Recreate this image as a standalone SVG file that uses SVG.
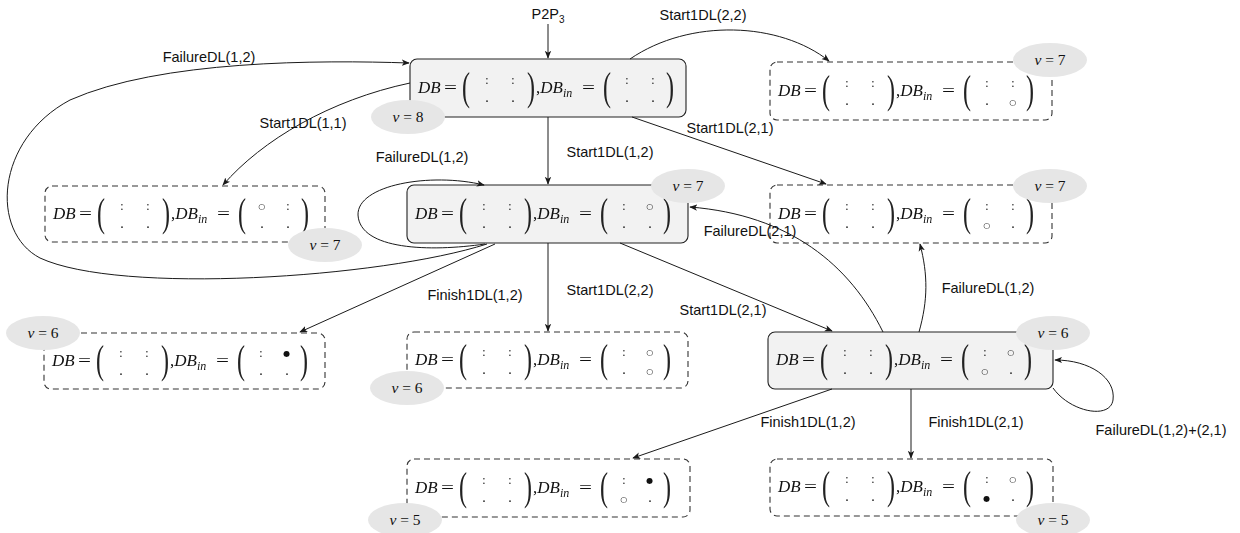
<svg xmlns="http://www.w3.org/2000/svg" width="1240" height="533" viewBox="0 0 1240 533">
<style>
.solid{fill:#f2f2f2;stroke:#222;stroke-width:1.1}
.dash{fill:none;stroke:#333;stroke-width:1.1;stroke-dasharray:6 4}
.m{font-family:"Liberation Serif",serif;font-size:17px;fill:#111}
.it{font-style:italic}
.sb{font-size:12px}
.pp{font-family:"Liberation Serif",serif;font-size:40px;fill:#222}
.c1{font-size:12px}
.c2{font-size:14px}
.o{font-family:"DejaVu Sans",sans-serif;font-size:8px}
.vb{fill:#e6e6e6}
.vt{font-family:"Liberation Serif",serif;font-size:15.5px;text-anchor:middle;fill:#111}
.lbl{font-family:"Liberation Sans",Arial,sans-serif;font-size:14.5px;fill:#111;text-anchor:middle}
.edge{fill:none;stroke:#1a1a1a;stroke-width:1;marker-end:url(#ah)}
.nd{filter:url(#gs)}
</style>
<defs>
<marker id="ah" viewBox="0 0 10 10" refX="9" refY="5" markerWidth="8" markerHeight="8" orient="auto" markerUnits="userSpaceOnUse">
<path d="M0,1 L10,5 L0,9 L2.5,5 z" fill="#1a1a1a"/>
</marker>
<filter id="gs" x="-5%" y="-20%" width="110%" height="140%"><feOffset dx="0" dy="0"/></filter>
</defs>
<rect width="1240" height="533" fill="#fff"/>

<g id="nodeA">
<g class="nd" transform="translate(410,88)">
<rect class="solid" x="0" y="-29" width="276" height="58" rx="7"/>
<text class="pp" transform="translate(52,12) scale(0.6,1)">(</text>
<text class="pp" transform="translate(117,12) scale(0.6,1)">)</text>
<text class="pp" transform="translate(193,12) scale(0.6,1)">(</text>
<text class="pp" transform="translate(256,12) scale(0.6,1)">)</text>
<text class="m"><tspan x="8" y="5" class="it">DB</tspan><tspan x="34" y="5" textLength="13" lengthAdjust="spacingAndGlyphs">=</tspan><tspan class="c1" x="75.3" y="-4">:</tspan><tspan class="c1" x="101.3" y="-4">:</tspan><tspan class="c2" x="75.3" y="14">.</tspan><tspan class="c2" x="101.3" y="14">.</tspan><tspan x="126" y="5">,</tspan><tspan class="it">DB</tspan><tspan class="it sb" y="9">in</tspan><tspan x="172" y="5" textLength="13" lengthAdjust="spacingAndGlyphs">=</tspan><tspan class="c1" x="215.3" y="-4">:</tspan><tspan class="c1" x="241.3" y="-4">:</tspan><tspan class="c2" x="215.3" y="14">.</tspan><tspan class="c2" x="241.3" y="14">.</tspan></text>
</g>
<ellipse class="vb" cx="408" cy="117" rx="37" ry="17"/>
<text class="vt" x="408" y="122"><tspan class="it">v</tspan> = 8</text>
</g>

<g id="nodeB">
<g class="nd" transform="translate(770,91)">
<rect class="dash" x="0" y="-29" width="282" height="58" rx="7"/>
<text class="pp" transform="translate(52,12) scale(0.6,1)">(</text>
<text class="pp" transform="translate(117,12) scale(0.6,1)">)</text>
<text class="pp" transform="translate(193,12) scale(0.6,1)">(</text>
<text class="pp" transform="translate(256,12) scale(0.6,1)">)</text>
<text class="m"><tspan x="8" y="5" class="it">DB</tspan><tspan x="34" y="5" textLength="13" lengthAdjust="spacingAndGlyphs">=</tspan><tspan class="c1" x="75.3" y="-4">:</tspan><tspan class="c1" x="101.3" y="-4">:</tspan><tspan class="c2" x="75.3" y="14">.</tspan><tspan class="c2" x="101.3" y="14">.</tspan><tspan x="126" y="5">,</tspan><tspan class="it">DB</tspan><tspan class="it sb" y="9">in</tspan><tspan x="172" y="5" textLength="13" lengthAdjust="spacingAndGlyphs">=</tspan><tspan class="c1" x="215.3" y="-4">:</tspan><tspan class="c1" x="241.3" y="-4">:</tspan><tspan class="c2" x="215.3" y="14">.</tspan><tspan class="o" x="239.2" y="14">○</tspan></text>
</g>
<ellipse class="vb" cx="1050" cy="60" rx="37" ry="17"/>
<text class="vt" x="1050" y="65"><tspan class="it">v</tspan> = 7</text>
</g>

<g id="nodeC">
<g class="nd" transform="translate(45,214)">
<rect class="dash" x="0" y="-28" width="280" height="56" rx="7"/>
<text class="pp" transform="translate(52,12) scale(0.6,1)">(</text>
<text class="pp" transform="translate(117,12) scale(0.6,1)">)</text>
<text class="pp" transform="translate(193,12) scale(0.6,1)">(</text>
<text class="pp" transform="translate(256,12) scale(0.6,1)">)</text>
<text class="m"><tspan x="8" y="5" class="it">DB</tspan><tspan x="34" y="5" textLength="13" lengthAdjust="spacingAndGlyphs">=</tspan><tspan class="c1" x="75.3" y="-4">:</tspan><tspan class="c1" x="101.3" y="-4">:</tspan><tspan class="c2" x="75.3" y="14">.</tspan><tspan class="c2" x="101.3" y="14">.</tspan><tspan x="126" y="5">,</tspan><tspan class="it">DB</tspan><tspan class="it sb" y="9">in</tspan><tspan x="172" y="5" textLength="13" lengthAdjust="spacingAndGlyphs">=</tspan><tspan class="o" x="213.2" y="-5">○</tspan><tspan class="c1" x="241.3" y="-4">:</tspan><tspan class="c2" x="215.3" y="14">.</tspan><tspan class="c2" x="241.3" y="14">.</tspan></text>
</g>
<ellipse class="vb" cx="325" cy="245" rx="37" ry="17"/>
<text class="vt" x="325" y="250"><tspan class="it">v</tspan> = 7</text>
</g>

<g id="nodeD">
<g class="nd" transform="translate(407,214)">
<rect class="solid" x="0" y="-29" width="281" height="58" rx="7"/>
<text class="pp" transform="translate(52,12) scale(0.6,1)">(</text>
<text class="pp" transform="translate(117,12) scale(0.6,1)">)</text>
<text class="pp" transform="translate(193,12) scale(0.6,1)">(</text>
<text class="pp" transform="translate(256,12) scale(0.6,1)">)</text>
<text class="m"><tspan x="8" y="5" class="it">DB</tspan><tspan x="34" y="5" textLength="13" lengthAdjust="spacingAndGlyphs">=</tspan><tspan class="c1" x="75.3" y="-4">:</tspan><tspan class="c1" x="101.3" y="-4">:</tspan><tspan class="c2" x="75.3" y="14">.</tspan><tspan class="c2" x="101.3" y="14">.</tspan><tspan x="126" y="5">,</tspan><tspan class="it">DB</tspan><tspan class="it sb" y="9">in</tspan><tspan x="172" y="5" textLength="13" lengthAdjust="spacingAndGlyphs">=</tspan><tspan class="c1" x="215.3" y="-4">:</tspan><tspan class="o" x="239.2" y="-5">○</tspan><tspan class="c2" x="215.3" y="14">.</tspan><tspan class="c2" x="241.3" y="14">.</tspan></text>
</g>
<ellipse class="vb" cx="688" cy="186" rx="37" ry="17"/>
<text class="vt" x="688" y="191"><tspan class="it">v</tspan> = 7</text>
</g>

<g id="nodeE">
<g class="nd" transform="translate(770,214)">
<rect class="dash" x="0" y="-29" width="282" height="58" rx="7"/>
<text class="pp" transform="translate(52,12) scale(0.6,1)">(</text>
<text class="pp" transform="translate(117,12) scale(0.6,1)">)</text>
<text class="pp" transform="translate(193,12) scale(0.6,1)">(</text>
<text class="pp" transform="translate(256,12) scale(0.6,1)">)</text>
<text class="m"><tspan x="8" y="5" class="it">DB</tspan><tspan x="34" y="5" textLength="13" lengthAdjust="spacingAndGlyphs">=</tspan><tspan class="c1" x="75.3" y="-4">:</tspan><tspan class="c1" x="101.3" y="-4">:</tspan><tspan class="c2" x="75.3" y="14">.</tspan><tspan class="c2" x="101.3" y="14">.</tspan><tspan x="126" y="5">,</tspan><tspan class="it">DB</tspan><tspan class="it sb" y="9">in</tspan><tspan x="172" y="5" textLength="13" lengthAdjust="spacingAndGlyphs">=</tspan><tspan class="c1" x="215.3" y="-4">:</tspan><tspan class="c1" x="241.3" y="-4">:</tspan><tspan class="o" x="213.2" y="14">○</tspan><tspan class="c2" x="241.3" y="14">.</tspan></text>
</g>
<ellipse class="vb" cx="1050" cy="186" rx="37" ry="17"/>
<text class="vt" x="1050" y="191"><tspan class="it">v</tspan> = 7</text>
</g>

<g id="nodeF">
<g class="nd" transform="translate(44,361)">
<rect class="dash" x="0" y="-28" width="281" height="56" rx="7"/>
<text class="pp" transform="translate(52,12) scale(0.6,1)">(</text>
<text class="pp" transform="translate(117,12) scale(0.6,1)">)</text>
<text class="pp" transform="translate(193,12) scale(0.6,1)">(</text>
<text class="pp" transform="translate(256,12) scale(0.6,1)">)</text>
<text class="m"><tspan x="8" y="5" class="it">DB</tspan><tspan x="34" y="5" textLength="13" lengthAdjust="spacingAndGlyphs">=</tspan><tspan class="c1" x="75.3" y="-4">:</tspan><tspan class="c1" x="101.3" y="-4">:</tspan><tspan class="c2" x="75.3" y="14">.</tspan><tspan class="c2" x="101.3" y="14">.</tspan><tspan x="126" y="5">,</tspan><tspan class="it">DB</tspan><tspan class="it sb" y="9">in</tspan><tspan x="172" y="5" textLength="13" lengthAdjust="spacingAndGlyphs">=</tspan><tspan class="c1" x="215.3" y="-4">:</tspan><tspan class="o" x="239.2" y="-5">●</tspan><tspan class="c2" x="215.3" y="14">.</tspan><tspan class="c2" x="241.3" y="14">.</tspan></text>
</g>
<ellipse class="vb" cx="43" cy="333" rx="37" ry="17"/>
<text class="vt" x="43" y="338"><tspan class="it">v</tspan> = 6</text>
</g>

<g id="nodeG">
<g class="nd" transform="translate(407,360)">
<rect class="dash" x="0" y="-28" width="281" height="56" rx="7"/>
<text class="pp" transform="translate(52,12) scale(0.6,1)">(</text>
<text class="pp" transform="translate(117,12) scale(0.6,1)">)</text>
<text class="pp" transform="translate(193,12) scale(0.6,1)">(</text>
<text class="pp" transform="translate(256,12) scale(0.6,1)">)</text>
<text class="m"><tspan x="8" y="5" class="it">DB</tspan><tspan x="34" y="5" textLength="13" lengthAdjust="spacingAndGlyphs">=</tspan><tspan class="c1" x="75.3" y="-4">:</tspan><tspan class="c1" x="101.3" y="-4">:</tspan><tspan class="c2" x="75.3" y="14">.</tspan><tspan class="c2" x="101.3" y="14">.</tspan><tspan x="126" y="5">,</tspan><tspan class="it">DB</tspan><tspan class="it sb" y="9">in</tspan><tspan x="172" y="5" textLength="13" lengthAdjust="spacingAndGlyphs">=</tspan><tspan class="c1" x="215.3" y="-4">:</tspan><tspan class="o" x="239.2" y="-5">○</tspan><tspan class="c2" x="215.3" y="14">.</tspan><tspan class="o" x="239.2" y="14">○</tspan></text>
</g>
<ellipse class="vb" cx="407" cy="388" rx="37" ry="17"/>
<text class="vt" x="407" y="393"><tspan class="it">v</tspan> = 6</text>
</g>

<g id="nodeH">
<g class="nd" transform="translate(768,360)">
<rect class="solid" x="0" y="-28" width="285" height="57" rx="7"/>
<text class="pp" transform="translate(52,12) scale(0.6,1)">(</text>
<text class="pp" transform="translate(117,12) scale(0.6,1)">)</text>
<text class="pp" transform="translate(193,12) scale(0.6,1)">(</text>
<text class="pp" transform="translate(256,12) scale(0.6,1)">)</text>
<text class="m"><tspan x="8" y="5" class="it">DB</tspan><tspan x="34" y="5" textLength="13" lengthAdjust="spacingAndGlyphs">=</tspan><tspan class="c1" x="75.3" y="-4">:</tspan><tspan class="c1" x="101.3" y="-4">:</tspan><tspan class="c2" x="75.3" y="14">.</tspan><tspan class="c2" x="101.3" y="14">.</tspan><tspan x="126" y="5">,</tspan><tspan class="it">DB</tspan><tspan class="it sb" y="9">in</tspan><tspan x="172" y="5" textLength="13" lengthAdjust="spacingAndGlyphs">=</tspan><tspan class="c1" x="215.3" y="-4">:</tspan><tspan class="o" x="239.2" y="-5">○</tspan><tspan class="o" x="213.2" y="14">○</tspan><tspan class="c2" x="241.3" y="14">.</tspan></text>
</g>
<ellipse class="vb" cx="1053" cy="333" rx="37" ry="17"/>
<text class="vt" x="1053" y="338"><tspan class="it">v</tspan> = 6</text>
</g>

<g id="nodeI">
<g class="nd" transform="translate(407,488)">
<rect class="dash" x="0" y="-29" width="283" height="58" rx="7"/>
<text class="pp" transform="translate(52,12) scale(0.6,1)">(</text>
<text class="pp" transform="translate(117,12) scale(0.6,1)">)</text>
<text class="pp" transform="translate(193,12) scale(0.6,1)">(</text>
<text class="pp" transform="translate(256,12) scale(0.6,1)">)</text>
<text class="m"><tspan x="8" y="5" class="it">DB</tspan><tspan x="34" y="5" textLength="13" lengthAdjust="spacingAndGlyphs">=</tspan><tspan class="c1" x="75.3" y="-4">:</tspan><tspan class="c1" x="101.3" y="-4">:</tspan><tspan class="c2" x="75.3" y="14">.</tspan><tspan class="c2" x="101.3" y="14">.</tspan><tspan x="126" y="5">,</tspan><tspan class="it">DB</tspan><tspan class="it sb" y="9">in</tspan><tspan x="172" y="5" textLength="13" lengthAdjust="spacingAndGlyphs">=</tspan><tspan class="c1" x="215.3" y="-4">:</tspan><tspan class="o" x="239.2" y="-5">●</tspan><tspan class="o" x="213.2" y="14">○</tspan><tspan class="c2" x="241.3" y="14">.</tspan></text>
</g>
<ellipse class="vb" cx="405" cy="520" rx="37" ry="17"/>
<text class="vt" x="405" y="525"><tspan class="it">v</tspan> = 5</text>
</g>

<g id="nodeJ">
<g class="nd" transform="translate(770,487)">
<rect class="dash" x="0" y="-28" width="283" height="57" rx="7"/>
<text class="pp" transform="translate(52,12) scale(0.6,1)">(</text>
<text class="pp" transform="translate(117,12) scale(0.6,1)">)</text>
<text class="pp" transform="translate(193,12) scale(0.6,1)">(</text>
<text class="pp" transform="translate(256,12) scale(0.6,1)">)</text>
<text class="m"><tspan x="8" y="5" class="it">DB</tspan><tspan x="34" y="5" textLength="13" lengthAdjust="spacingAndGlyphs">=</tspan><tspan class="c1" x="75.3" y="-4">:</tspan><tspan class="c1" x="101.3" y="-4">:</tspan><tspan class="c2" x="75.3" y="14">.</tspan><tspan class="c2" x="101.3" y="14">.</tspan><tspan x="126" y="5">,</tspan><tspan class="it">DB</tspan><tspan class="it sb" y="9">in</tspan><tspan x="172" y="5" textLength="13" lengthAdjust="spacingAndGlyphs">=</tspan><tspan class="c1" x="215.3" y="-4">:</tspan><tspan class="o" x="239.2" y="-5">○</tspan><tspan class="o" x="213.2" y="14">●</tspan><tspan class="c2" x="241.3" y="14">.</tspan></text>
</g>
<ellipse class="vb" cx="1053" cy="520" rx="37" ry="17"/>
<text class="vt" x="1053" y="525"><tspan class="it">v</tspan> = 5</text>
</g>

<g id="connectors">
<path class="edge" d="M548 24 L548 58"/>
<text class="lbl" x="548" y="19">P2P<tspan font-size="10" dy="4">3</tspan></text>
<path class="edge" d="M630 59 C690 18 780 22 829 61"/>
<text class="lbl" x="703" y="20">Start1DL(2,2)</text>
<path class="edge" d="M410 83 C330 100 262 140 223 185"/>
<text class="lbl" x="303" y="128">Start1DL(1,1)</text>
<path class="edge" d="M487 244 C380 278 120 295 40 258 C-10 232 -5 140 70 100 C160 60 320 60 409 63"/>
<text class="lbl" x="209" y="62">FailureDL(1,2)</text>
<path class="edge" d="M485 244 C430 252 360 250 358 215 C357 185 430 172 484 185"/>
<text class="lbl" x="422" y="162">FailureDL(1,2)</text>
<path class="edge" d="M548 117 L548 184"/>
<text class="lbl" x="610" y="157">Start1DL(1,2)</text>
<path class="edge" d="M632 117 L826 184"/>
<text class="lbl" x="730" y="133">Start1DL(2,1)</text>
<path class="edge" d="M495 244 L300 332"/>
<text class="lbl" x="475" y="300">Finish1DL(1,2)</text>
<path class="edge" d="M548 243 L548 331"/>
<text class="lbl" x="610" y="295">Start1DL(2,2)</text>
<path class="edge" d="M620 243 L832 331"/>
<text class="lbl" x="723" y="315">Start1DL(2,1)</text>
<path class="edge" d="M883 332 C850 265 790 215 690 207"/>
<text class="lbl" x="750" y="236">FailureDL(2,1)</text>
<path class="edge" d="M919 332 C928 300 928 275 920 244"/>
<text class="lbl" x="988" y="293">FailureDL(1,2)</text>
<path class="edge" d="M1053 388 C1070 412 1110 420 1113 400 C1116 378 1090 360 1055 360"/>
<text class="lbl" x="1161" y="435">FailureDL(1,2)+(2,1)</text>
<path class="edge" d="M911 389 L911 458"/>
<text class="lbl" x="976" y="427">Finish1DL(2,1)</text>
<path class="edge" d="M832 389 L633 458"/>
<text class="lbl" x="808" y="427">Finish1DL(1,2)</text>
</g>
</svg>
